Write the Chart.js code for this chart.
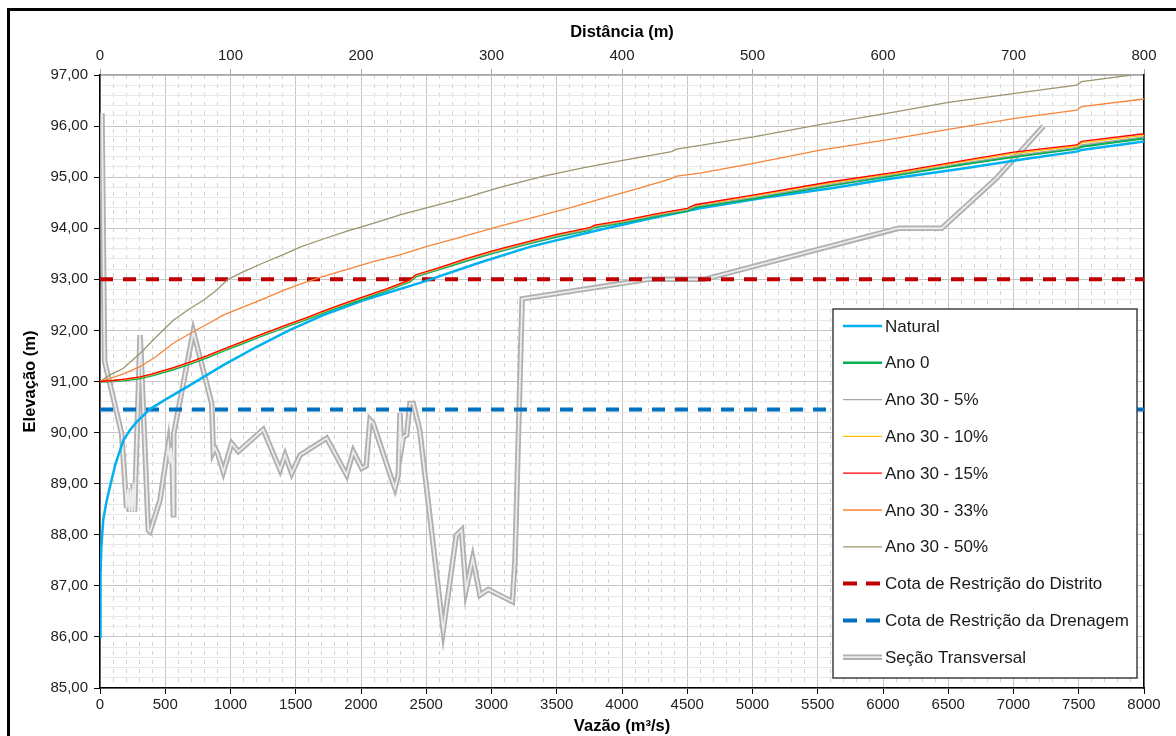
<!DOCTYPE html>
<html>
<head>
<meta charset="utf-8">
<script src="https://cdn.jsdelivr.net/npm/chart.js@4.4.1/dist/chart.umd.min.js"></script>
<style>
  body { margin: 0; background: #fff; overflow: hidden; }
  #frame { position: absolute; left: 7px; top: 8px; width: 1300px; height: 900px; border: 3px solid #000; }
  #chart { position: absolute; left: 0; top: 0; }
</style>
</head>
<body>
<div id="frame"></div>
<canvas id="chart" width="1176" height="736"></canvas>
<script>
// [vazão m3/s, elevação m]
const natural = [[0,86.0],[4,87.2],[10,87.75],[25,88.3],[50,88.65],[77,88.95],[120,89.4],[179,89.85],[230,90.05],[281,90.21],[383,90.46],[498,90.64],[690,90.93],[945,91.32],[1201,91.68],[1456,92.01],[1711,92.3],[2018,92.59],[2452,92.93],[2912,93.33],[3300,93.64],[3831,93.97],[4200,94.18],[4598,94.39],[5100,94.6],[5619,94.79],[6005,94.95],[6641,95.18],[7100,95.36],[7484,95.5],[7520,95.53],[8000,95.7]];
const ano0 = [[0,91.0],[100,91.01],[200,91.03],[307,91.07],[400,91.12],[562,91.24],[700,91.36],[817,91.47],[950,91.61],[1073,91.73],[1200,91.86],[1328,91.98],[1450,92.1],[1584,92.22],[1700,92.34],[1839,92.47],[2000,92.61],[2200,92.79],[2375,92.96],[2420,93.06],[2600,93.2],[2800,93.36],[3000,93.51],[3250,93.68],[3500,93.84],[3750,93.97],[3790,94.02],[4000,94.11],[4300,94.26],[4500,94.34],[4560,94.41],[5000,94.58],[5600,94.84],[6100,95.04],[6600,95.25],[7000,95.4],[7484,95.56],[7522,95.6],[8000,95.76]];
const ano30_5 = [[0,91.0],[100,91.01],[200,91.04],[307,91.08],[400,91.13],[562,91.25],[700,91.37],[817,91.48],[950,91.62],[1073,91.74],[1200,91.87],[1328,91.99],[1450,92.11],[1584,92.23],[1700,92.35],[1839,92.48],[2000,92.62],[2200,92.8],[2375,92.97],[2420,93.07],[2600,93.21],[2800,93.37],[3000,93.52],[3250,93.69],[3500,93.85],[3750,93.98],[3790,94.03],[4000,94.12],[4300,94.27],[4500,94.36],[4560,94.43],[5000,94.6],[5600,94.86],[6100,95.06],[6600,95.27],[7000,95.42],[7484,95.58],[7522,95.63],[8000,95.79]];
const ano30_10 = [[0,91.0],[100,91.02],[200,91.04],[307,91.08],[400,91.14],[562,91.26],[700,91.38],[817,91.49],[950,91.63],[1073,91.75],[1200,91.88],[1328,92.0],[1450,92.12],[1584,92.24],[1700,92.36],[1839,92.49],[2000,92.63],[2200,92.81],[2375,92.98],[2420,93.08],[2600,93.22],[2800,93.39],[3000,93.54],[3250,93.71],[3500,93.87],[3750,94.0],[3790,94.05],[4000,94.14],[4300,94.29],[4500,94.38],[4560,94.45],[5000,94.63],[5600,94.89],[6100,95.08],[6600,95.3],[7000,95.46],[7484,95.61],[7522,95.67],[8000,95.82]];
const ano30_15 = [[0,91.0],[100,91.02],[200,91.05],[307,91.09],[400,91.15],[562,91.27],[700,91.39],[817,91.5],[950,91.64],[1073,91.76],[1200,91.89],[1328,92.01],[1450,92.13],[1584,92.25],[1700,92.37],[1839,92.5],[2000,92.64],[2200,92.82],[2375,92.99],[2420,93.09],[2600,93.23],[2800,93.4],[3000,93.55],[3250,93.72],[3500,93.88],[3750,94.01],[3790,94.06],[4000,94.15],[4300,94.3],[4500,94.39],[4560,94.46],[5000,94.65],[5600,94.91],[6100,95.1],[6600,95.32],[7000,95.49],[7484,95.63],[7522,95.7],[8000,95.85]];
const ano30_33 = [[0,91.0],[77,91.06],[180,91.15],[307,91.29],[420,91.47],[562,91.75],[690,91.94],[820,92.12],[945,92.3],[1100,92.46],[1226,92.59],[1400,92.78],[1550,92.92],[1700,93.05],[1900,93.2],[2100,93.35],[2299,93.48],[2500,93.64],[2800,93.85],[3065,94.04],[3300,94.2],[3600,94.4],[3831,94.57],[4100,94.76],[4368,94.96],[4420,95.02],[4598,95.08],[5006,95.27],[5517,95.53],[6029,95.73],[6513,95.94],[7011,96.15],[7484,96.31],[7522,96.38],[7969,96.52],[8000,96.53]];
const ano30_50 = [[0,91.0],[77,91.13],[179,91.26],[307,91.55],[434,91.88],[562,92.2],[690,92.43],[792,92.59],[881,92.76],[981,93.0],[1100,93.15],[1250,93.32],[1400,93.48],[1533,93.63],[1700,93.78],[1900,93.95],[2100,94.1],[2299,94.26],[2500,94.4],[2800,94.6],[3065,94.8],[3400,95.02],[3700,95.18],[3985,95.32],[4380,95.5],[4420,95.55],[5006,95.79],[5517,96.03],[6029,96.25],[6513,96.47],[7011,96.64],[7484,96.8],[7522,96.87],[7843,96.98],[7900,97.0]];
const cotaDistrito = [[0,93.0],[8000,93.0]];
const cotaDrenagem = [[0,90.45],[8000,90.45]];
// [distância m, elevação m]
const secao = [[1.5,96.25],[3.5,91.4],[16.6,89.98],[20.4,88.52],[21.5,88.9],[22.5,88.45],[23.5,88.9],[24.5,88.45],[25.5,89.0],[26.5,88.45],[30.7,91.91],[31.5,91.5],[37,88.09],[38.3,88.06],[46,88.68],[52.3,89.76],[53.5,89.4],[54.5,89.7],[55.5,89.3],[56.2,88.39],[56.5,89.98],[71.5,91.98],[85.6,90.57],[86.8,89.63],[88,89.7],[90,89.6],[94.5,89.23],[100.9,89.79],[106,89.63],[125,90.06],[138,89.27],[141.8,89.56],[146.9,89.2],[153.3,89.56],[173.7,89.89],[189,89.17],[194.1,89.63],[200.5,89.3],[204,89.35],[206.9,90.25],[209.4,90.18],[222,89.2],[226,88.91],[228.6,89.17],[229.9,90.38],[231,89.69],[232.5,89.92],[235,89.95],[237.5,90.57],[240,90.57],[245,90.05],[263,86.13],[273,87.99],[277,88.09],[280.5,86.92],[285.6,87.54],[291.2,86.82],[297.5,86.93],[316,86.69],[318,87.5],[323.5,92.62],[420,93.0],[463,93.0],[612,94.0],[645,94.0],[687,94.98],[723,96.0]];

Chart.defaults.font.family = "'Liberation Sans', Arial, sans-serif";

function xy(arr) {
    return arr.map(p => ({ x: p[0], y: p[1] }));
}

function serie(label, data, color, width, order) {
    return { label: label, data: xy(data), borderColor: color, borderWidth: width, order: order,
             pointRadius: 0, tension: 0, fill: false };
}

const datasets = [
    serie('Natural', natural, '#00b0f0', 2.5, 4),
    serie('Ano 0', ano0, '#00b050', 2.5, 3.5),
    serie('Ano 30 - 5%', ano30_5, '#a6a6a6', 1.3, 3),
    serie('Ano 30 - 10%', ano30_10, '#ffc000', 1.3, 2),
    serie('Ano 30 - 15%', ano30_15, '#ff0000', 1.3, 1),
    serie('Ano 30 - 33%', ano30_33, '#f7853a', 1.3, 1),
    serie('Ano 30 - 50%', ano30_50, '#9c9470', 1.3, 1),
    Object.assign(serie('Cota de Restrição do Distrito', cotaDistrito, '#c00000', 4, 6), { borderDash: [13, 10], kind: 'dash' }),
    Object.assign(serie('Cota de Restrição da Drenagem', cotaDrenagem, '#0070c0', 4, 6), { borderDash: [13, 10], kind: 'dash' }),
    Object.assign(serie('Seção Transversal', secao, '#b0b0b0', 5.5, 10), { xAxisID: 'x2', kind: 'double' }),
    Object.assign(serie('Seção Transversal (centro)', secao, '#ececec', 1.8, 9), { xAxisID: 'x2', hideInLegend: true })
];

const tickFont = { size: 15 };
const titleFont = { size: 16.5, weight: 'bold' };

const boxLegend = {
    id: 'boxLegend',
    afterDraw(chart) {
        const { ctx, chartArea } = chart;
        const x0 = chartArea.right - 311, y0 = chartArea.top + 234, w = 304, h = 369;
        ctx.save();
        ctx.fillStyle = '#fff';
        ctx.fillRect(x0, y0, w, h);
        ctx.strokeStyle = '#404040';
        ctx.lineWidth = 1.5;
        ctx.strokeRect(x0, y0, w, h);
        ctx.font = "17px 'Liberation Sans', Arial, sans-serif";
        ctx.textBaseline = 'middle';
        ctx.fillStyle = '#1a1a1a';
        let y = y0 + 17;
        chart.data.datasets.forEach(ds => {
            if (ds.hideInLegend) return;
            const lx = x0 + 10, rx = x0 + 49;
            ctx.beginPath();
            ctx.moveTo(lx, y);
            ctx.lineTo(rx, y);
            ctx.strokeStyle = ds.borderColor;
            ctx.lineWidth = ds.borderWidth;
            ctx.setLineDash(ds.kind === 'dash' ? [14, 9] : []);
            ctx.stroke();
            if (ds.kind === 'double') {
                ctx.beginPath();
                ctx.moveTo(lx, y);
                ctx.lineTo(rx, y);
                ctx.strokeStyle = '#ececec';
                ctx.lineWidth = 1.8;
                ctx.stroke();
            }
            ctx.setLineDash([]);
            ctx.fillText(ds.label, x0 + 52, y + 1);
            y += 36.8;
        });
        ctx.restore();
    }
};

function isWhole(v, step) {
    return Math.abs(v / step - Math.round(v / step)) < 1e-6;
}

new Chart(document.getElementById('chart'), {
    type: 'line',
    data: { datasets: datasets },
    plugins: [boxLegend],
    options: {
        responsive: false,
        animation: false,
        layout: { padding: { left: 0, top: 0, right: 32, bottom: 0 } },
        plugins: { legend: { display: false }, tooltip: { enabled: false } },
        scales: {
            x: {
                type: 'linear', position: 'bottom', min: 0, max: 8000,
                ticks: { stepSize: 500, color: '#222', font: tickFont, padding: 2, maxRotation: 0, autoSkip: false,
                         callback: v => String(v) },
                grid: { color: '#c6c6c6', tickColor: '#000', tickLength: 6 },
                border: { color: '#000', width: 1.5 },
                title: { display: true, text: 'Vazão (m³/s)', color: '#000', font: titleFont, padding: { top: 0, bottom: 0 } },
                afterFit: s => { s.height = 48; }
            },
            x2: {
                type: 'linear', position: 'top', min: 0, max: 800,
                ticks: { stepSize: 100, color: '#222', font: tickFont, padding: 4, maxRotation: 0, autoSkip: false,
                         callback: v => String(v) },
                grid: { drawOnChartArea: false, tickColor: '#a6a6a6', tickLength: 6 },
                border: { color: '#a6a6a6', width: 1.5 },
                title: { display: true, text: 'Distância (m)', color: '#000', font: titleFont, padding: { top: 23, bottom: 0 } },
                afterFit: s => { s.height = 75; }
            },
            xMinor: {
                type: 'linear', position: 'top', min: 0, max: 8000,
                ticks: { display: false, stepSize: 100, autoSkip: false },
                grid: { drawTicks: false, color: c => isWhole(c.tick.value, 500) ? 'rgba(0,0,0,0)' : '#d2d2d2' },
                border: { display: false, dash: [4, 5] },
                afterFit: s => { s.height = 0; }
            },
            y: {
                type: 'linear', position: 'left', min: 85, max: 97,
                ticks: { stepSize: 1, color: '#222', font: tickFont, padding: 6,
                         callback: v => v.toFixed(2).replace('.', ',') },
                grid: { color: '#c6c6c6', tickColor: '#000', tickLength: 6 },
                border: { color: '#000', width: 1.5 },
                title: { display: true, text: 'Elevação (m)', color: '#000', font: titleFont, padding: { top: 21, bottom: 0 } },
                afterFit: s => { s.width = 100; }
            },
            yMinor: {
                type: 'linear', position: 'right', min: 85, max: 97,
                ticks: { display: false, stepSize: 0.2 },
                grid: { drawTicks: false, color: c => isWhole(c.tick.value, 1) ? 'rgba(0,0,0,0)' : '#e8e8e8' },
                border: { color: '#000', width: 1.5 },
                afterFit: s => { s.width = 0; }
            }
        }
    }
});
</script>
</body>
</html>
